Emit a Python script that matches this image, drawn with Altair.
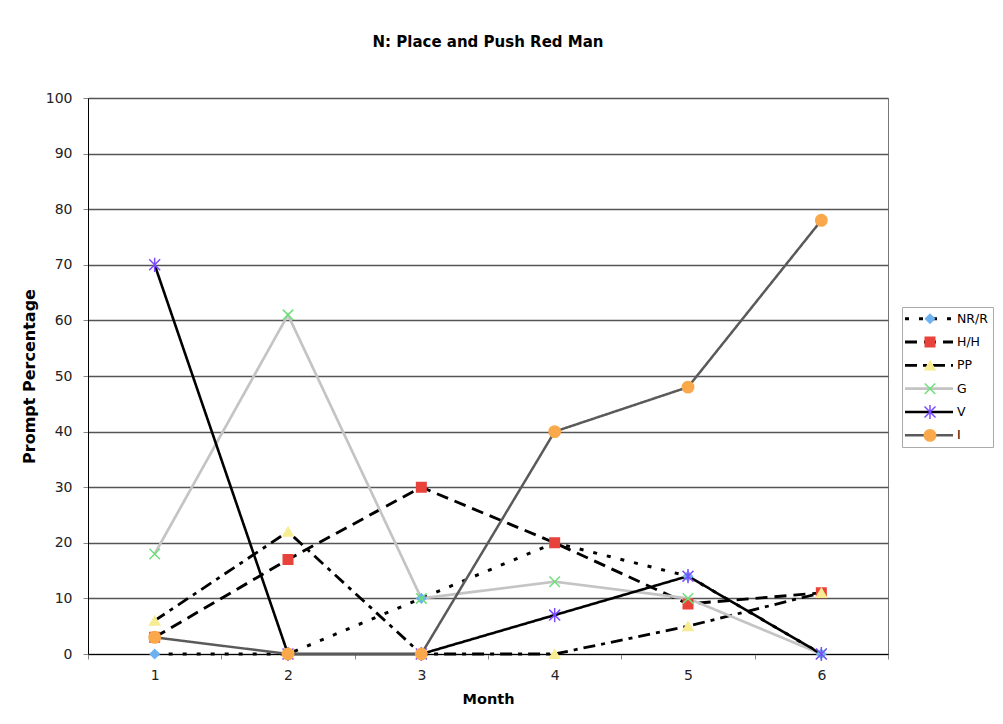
import altair as alt
import pandas as pd

months = [1, 2, 3, 4, 5, 6]
series_names = ["NR/R", "H/H", "PP", "G", "V", "I"]
nr_r = [0, 0, 10, 20, 14, 0]
h_h = [3, 17, 30, 20, 9, 11]
pp = [6, 22, 0, 0, 5, 11]
g = [18, 61, 10, 13, 10, 0]
v = [70, 0, 0, 7, 14, 0]
i_ = [3, 0, 0, 40, 48, 78]
values = [nr_r, h_h, pp, g, v, i_]

rows = []
for name, vals in zip(series_names, values):
    for m, val in zip(months, vals):
        rows.append({"series": name, "month": m, "value": val})
df = pd.DataFrame(rows)

FONT = "DejaVu Sans"
x_path = "M-1,-1L1,1M-1,1L1,-1"
ast_path = "M-1,-1L1,1M-1,1L1,-1M0,-1.3L0,1.3"

line_colors = ["#000000", "#000000", "#000000", "#c4c4c4", "#000000", "#5a5a5a"]
dashes = [[4, 10], [12, 7], [12, 6, 4, 6], [1, 0], [1, 0], [1, 0]]
widths = [3, 2.5, 2.5, 2, 2, 4.5]
shapes = ["diamond", "square", "triangle-up", x_path, ast_path, "circle"]
marker_colors = ["#6db2f0", "#e8433b", "#f7ec92", "#6ee07a", "#7a4cff", "#f9a94b"]
sizes = [80, 130, 120, 90, 110, 180]

c_scale = alt.Scale(domain=series_names, range=line_colors)
d_scale = alt.Scale(domain=series_names, range=dashes)
w_scale = alt.Scale(domain=series_names, range=widths)
s_scale = alt.Scale(domain=series_names, range=shapes)
m_scale = alt.Scale(domain=series_names, range=marker_colors)
z_scale = alt.Scale(domain=series_names, range=sizes)

x_enc = alt.X(
    "month:O",
    bandPosition=0.5,
    scale=alt.Scale(type="band", paddingInner=0, paddingOuter=0),
    axis=alt.Axis(title="Month", labelAngle=0, tickBand="extent", grid=False,
                  tickSize=5, labelPadding=9, titlePadding=10, titleFontSize=14.5,
                  domainColor="#000000", tickColor="#888888"),
)
y_enc = alt.Y(
    "value:Q",
    scale=alt.Scale(domain=[0, 100], nice=False),
    axis=alt.Axis(title="Prompt Percentage", values=list(range(0, 101, 10)),
                  tickSize=5, labelPadding=11, titlePadding=8, titleFontSize=16,
                  gridColor="#555555", gridWidth=1.3,
                  domainColor="#000000", tickColor="#888888"),
)

base = alt.Chart(df).encode(x=x_enc, y=y_enc)

lines = base.mark_line().encode(
    color=alt.Color("series:N", scale=c_scale, legend=None),
    strokeDash=alt.StrokeDash("series:N", scale=d_scale, legend=None),
    strokeWidth=alt.StrokeWidth("series:N", scale=w_scale, legend=None),
    order=alt.Order("month:Q"),
)
points = base.mark_point(filled=False, strokeWidth=1.5, opacity=1).encode(
    shape=alt.Shape("series:N", scale=s_scale, legend=None),
    fill=alt.Fill("series:N", scale=m_scale, legend=None),
    stroke=alt.Stroke("series:N", scale=m_scale, legend=None),
    size=alt.Size("series:N", scale=z_scale, legend=None),
)

main = alt.layer(lines, points).properties(
    width=800,
    height=556,
    title=alt.TitleParams("N: Place and Push Red Man", font=FONT, fontSize=15,
                          fontWeight="bold", anchor="middle", frame="group",
                          offset=41, color="#000000"),
    view=alt.ViewConfig(stroke="#777777"),
)

# legend panel
leg_df = pd.DataFrame({"series": series_names})
leg_y = alt.Y("series:N", sort=series_names, axis=None,
              scale=alt.Scale(type="point", padding=0.5))
leg_xscale = alt.Scale(domain=[0, 91])
leg_base = alt.Chart(leg_df).encode(y=leg_y)
leg_rules = leg_base.mark_rule().encode(
    x=alt.X(datum=3, scale=leg_xscale, axis=None),
    x2=alt.X2(datum=51),
    color=alt.Color("series:N", scale=c_scale, legend=None),
    strokeDash=alt.StrokeDash("series:N", scale=d_scale, legend=None),
    strokeWidth=alt.StrokeWidth("series:N", scale=w_scale, legend=None),
)
leg_points = leg_base.mark_point(filled=False, strokeWidth=1.5, opacity=1).encode(
    x=alt.X(datum=28, scale=leg_xscale, axis=None),
    shape=alt.Shape("series:N", scale=s_scale, legend=None),
    fill=alt.Fill("series:N", scale=m_scale, legend=None),
    stroke=alt.Stroke("series:N", scale=m_scale, legend=None),
    size=alt.Size("series:N", scale=z_scale, legend=None),
)
leg_text = leg_base.mark_text(align="left", baseline="middle", font=FONT,
                              fontSize=12.5, color="#000000").encode(
    x=alt.X(datum=55, scale=leg_xscale, axis=None),
    text="series:N",
)
legend = alt.layer(leg_rules, leg_points, leg_text).properties(
    width=91, height=140, view=alt.ViewConfig(stroke="#aaaaaa"))

spacer = alt.Chart(leg_df).mark_text().encode(text=alt.value("")).properties(
    width=91, height=207, view=alt.ViewConfig(stroke="transparent"))

right_col = alt.vconcat(spacer, legend, spacing=0)

chart = alt.hconcat(main, right_col, spacing=12).resolve_scale(
    color="independent", strokeDash="independent", strokeWidth="independent",
    shape="independent", fill="independent", stroke="independent", size="independent",
).properties(
    padding={"left": 12, "top": 26, "right": 0, "bottom": 0},
    background="white",
).configure_axis(
    labelFont=FONT, labelFontSize=14, labelColor="#222222",
    titleFont=FONT, titleFontWeight="bold", titleColor="#000000",
)

chart.save("out.html", embed_options={"renderer": "svg", "actions": False})
